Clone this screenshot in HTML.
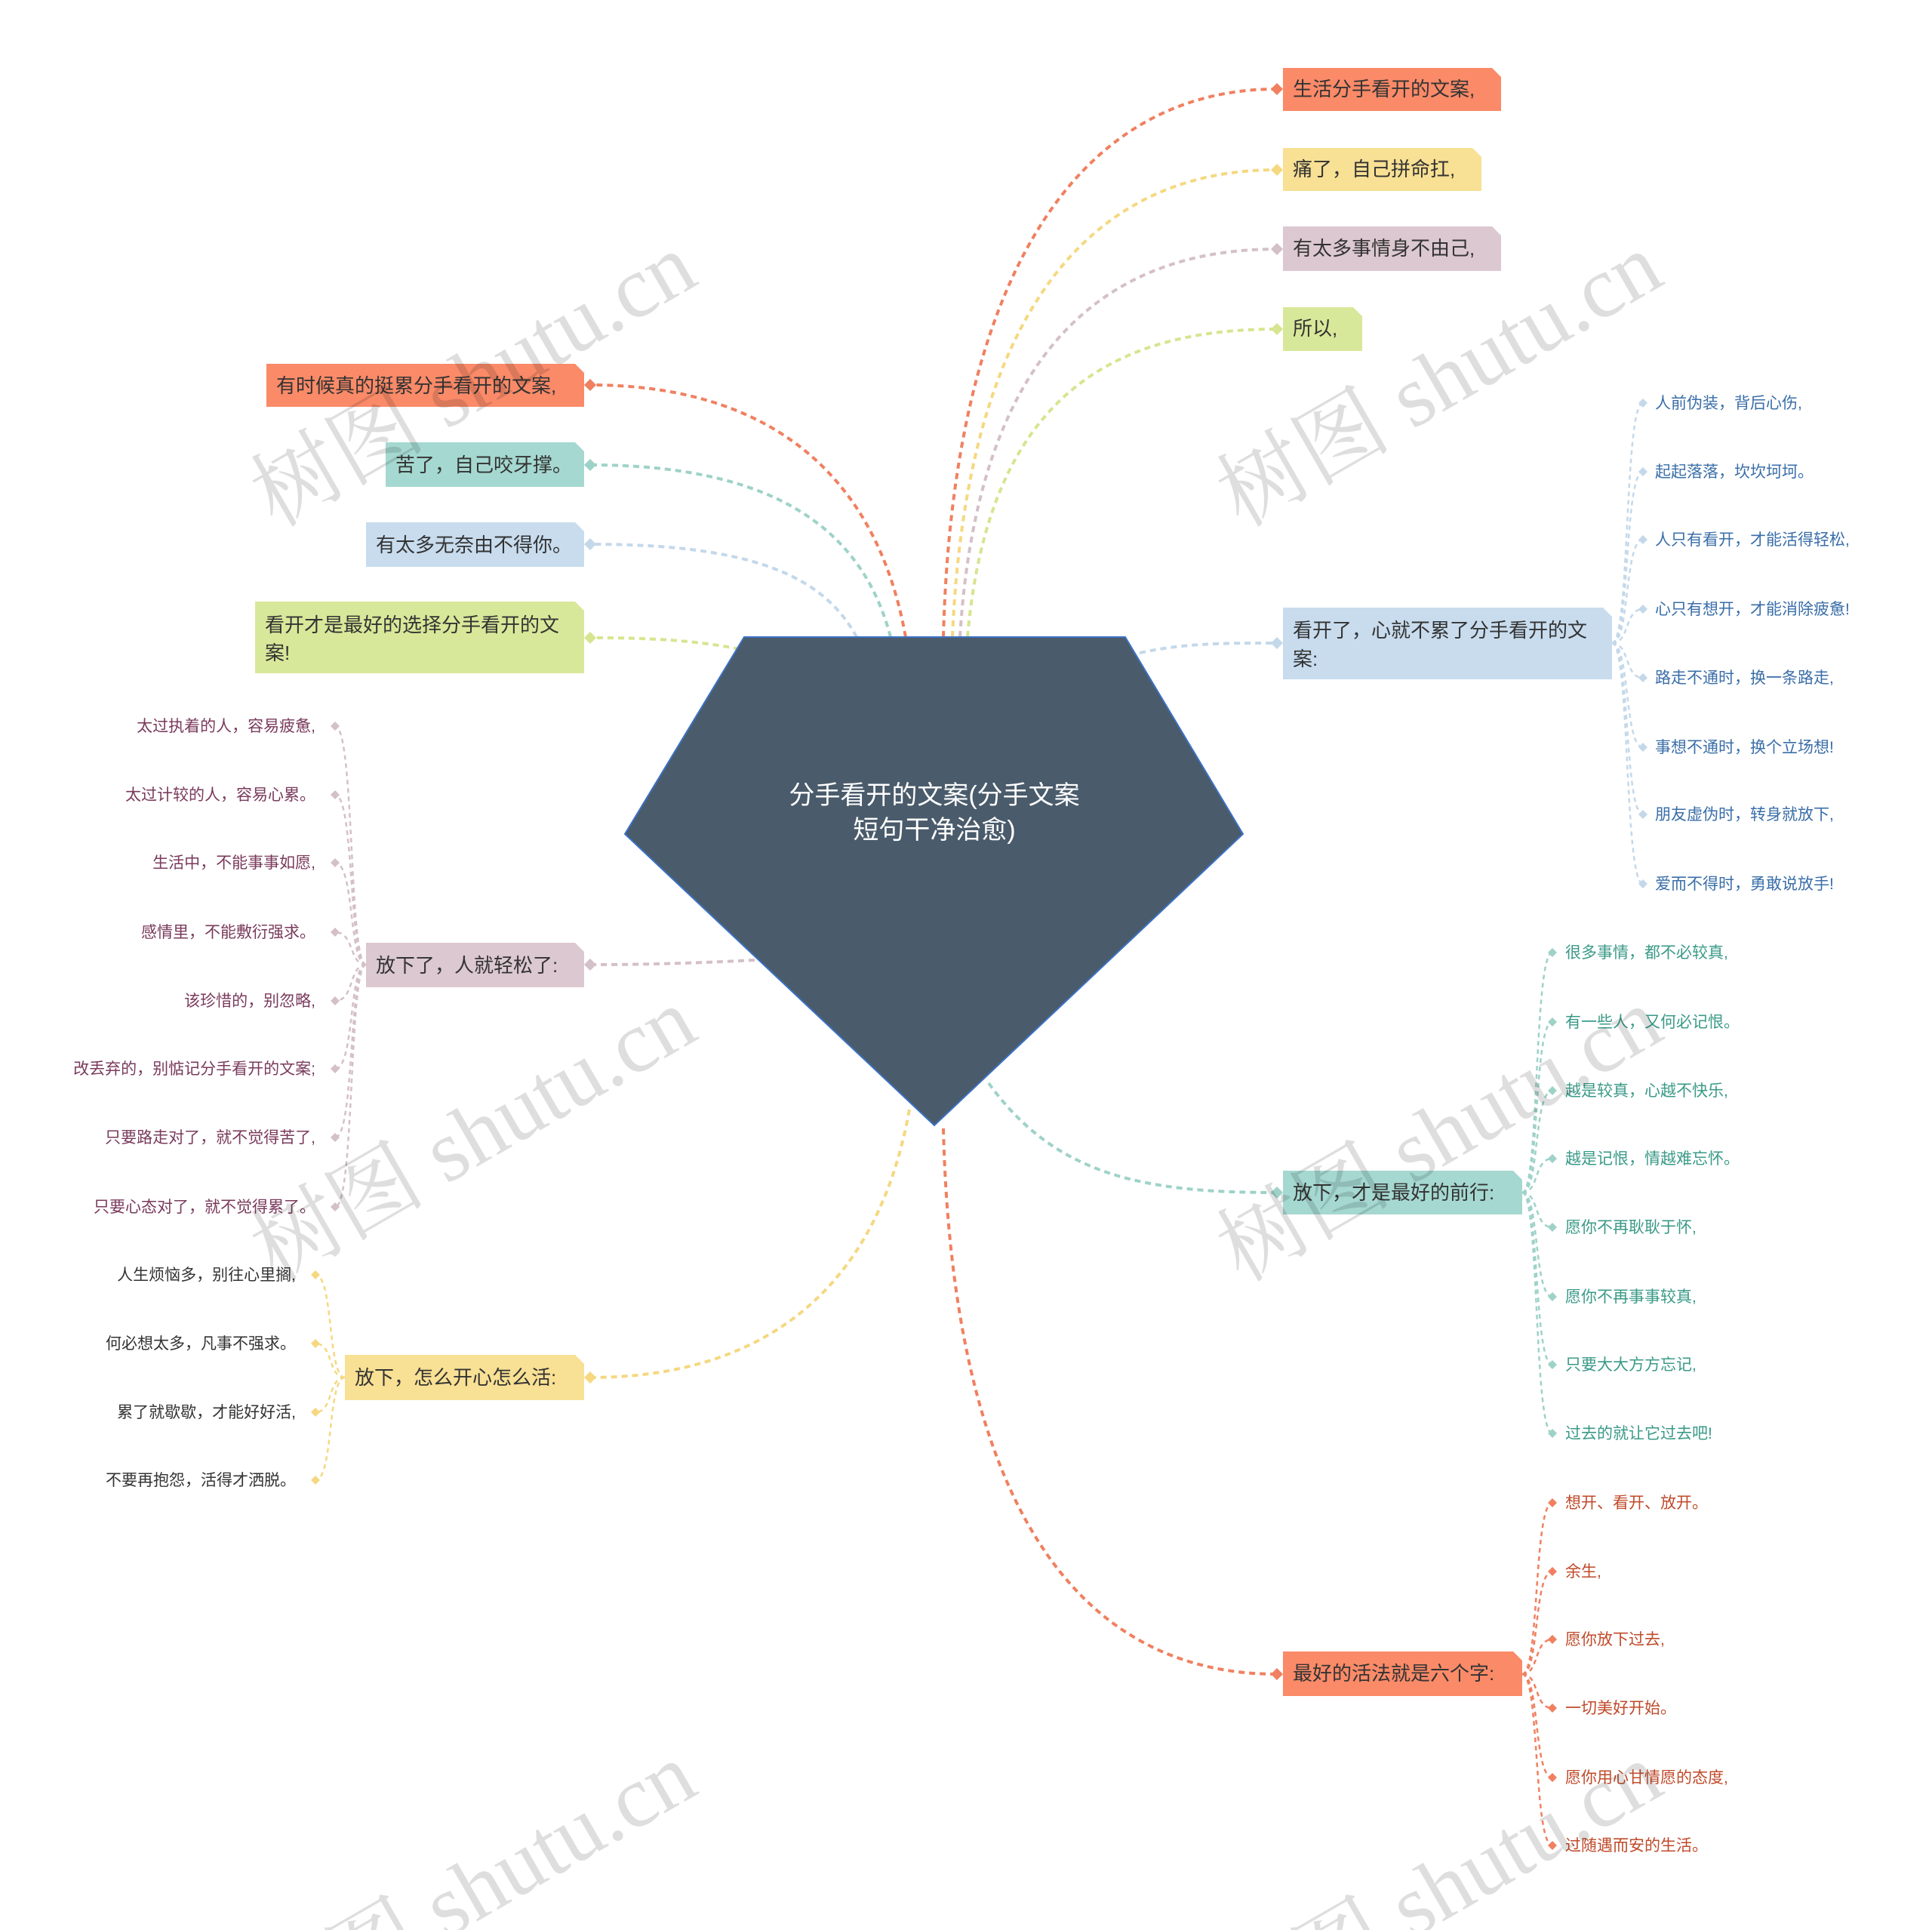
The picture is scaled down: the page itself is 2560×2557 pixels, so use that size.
<!DOCTYPE html>
<html><head><meta charset="utf-8"><style>
html,body{margin:0;padding:0;background:#fff;width:2560px;height:2557px;overflow:hidden;}
svg{display:block;overflow:hidden;}
text{font-family:"Liberation Sans","Noto Sans CJK SC",sans-serif;}
</style></head><body>
<svg width="2560" height="2557" viewBox="0 0 2560 2557" xmlns="http://www.w3.org/2000/svg">
<g fill="none" stroke-width="4" stroke-dasharray="8 6">
<path d="M1250 844 C1262 380 1420 118 1692 118" stroke="#f08060"/>
<path d="M1262 844 C1280 420 1440 225 1692 225" stroke="#f5d880"/>
<path d="M1272 844 C1295 470 1460 330 1692 330" stroke="#d4c0c8"/>
<path d="M1282 844 C1310 520 1480 436 1692 436" stroke="#d8e490"/>
<path d="M1510 865 C1570 852 1620 852 1692 852" stroke="#c4d8ea"/>
<path d="M1310 1435 C1400 1560 1520 1580 1692 1580" stroke="#9ed2c8"/>
<path d="M1250 1495 C1262 1980 1420 2218 1692 2218" stroke="#f08060"/>
<path d="M1200 844 C1160 620 1010 510 782 510" stroke="#f08060"/>
<path d="M1180 844 C1140 690 1010 616 782 616" stroke="#9ed2c8"/>
<path d="M1135 844 C1090 760 990 721 782 721" stroke="#c4d8ea"/>
<path d="M980 860 C920 848 860 845 782 845" stroke="#d8e490"/>
<path d="M1000 1272 C920 1276 860 1278 782 1278" stroke="#d4c0c8"/>
<path d="M1205 1470 C1160 1720 1000 1825 782 1825" stroke="#f5d880"/>
</g>
<g fill="none" stroke-width="2.5" stroke-dasharray="6 5">
<g stroke="#c4d8ea">
<path d="M2136 852 C2160 852 2152 534 2177 534"/><path d="M2136 852 C2160 852 2152 625 2177 625"/>
<path d="M2136 852 C2160 852 2152 715 2177 715"/><path d="M2136 852 C2160 852 2152 807 2177 807"/>
<path d="M2136 852 C2160 852 2152 898 2177 898"/><path d="M2136 852 C2160 852 2152 990 2177 990"/>
<path d="M2136 852 C2160 852 2152 1079 2177 1079"/><path d="M2136 852 C2160 852 2152 1171 2177 1171"/>
</g>
<g stroke="#9ed2c8">
<path d="M2017 1580 C2040 1580 2032 1262 2057 1262"/><path d="M2017 1580 C2040 1580 2032 1354 2057 1354"/>
<path d="M2017 1580 C2040 1580 2032 1445 2057 1445"/><path d="M2017 1580 C2040 1580 2032 1535 2057 1535"/>
<path d="M2017 1580 C2040 1580 2032 1626 2057 1626"/><path d="M2017 1580 C2040 1580 2032 1718 2057 1718"/>
<path d="M2017 1580 C2040 1580 2032 1808 2057 1808"/><path d="M2017 1580 C2040 1580 2032 1899 2057 1899"/>
</g>
<g stroke="#f08060">
<path d="M2017 2218 C2040 2218 2032 1991 2057 1991"/><path d="M2017 2218 C2040 2218 2032 2082 2057 2082"/>
<path d="M2017 2218 C2040 2218 2032 2172 2057 2172"/><path d="M2017 2218 C2040 2218 2032 2263 2057 2263"/>
<path d="M2017 2218 C2040 2218 2032 2355 2057 2355"/><path d="M2017 2218 C2040 2218 2032 2445 2057 2445"/>
</g>
<g stroke="#d4c0c8">
<path d="M485 1278 C462 1278 470 962 444 962"/><path d="M485 1278 C462 1278 470 1053 444 1053"/>
<path d="M485 1278 C462 1278 470 1143 444 1143"/><path d="M485 1278 C462 1278 470 1235 444 1235"/>
<path d="M485 1278 C462 1278 470 1326 444 1326"/><path d="M485 1278 C462 1278 470 1416 444 1416"/>
<path d="M485 1278 C462 1278 470 1507 444 1507"/><path d="M485 1278 C462 1278 470 1599 444 1599"/>
</g>
<g stroke="#f5d880">
<path d="M457 1825 C434 1825 442 1689 418 1689"/><path d="M457 1825 C434 1825 442 1780 418 1780"/>
<path d="M457 1825 C434 1825 442 1871 418 1871"/><path d="M457 1825 C434 1825 442 1961 418 1961"/>
</g>
</g>
<polygon points="986,844 1491,844 1647,1105 1238,1491 828,1105" fill="#4a5b6b" stroke="#3c72c4" stroke-width="2"/>
<text x="1238" y="1065" font-size="34" fill="#fff" text-anchor="middle">分手看开的文案(分手文案</text>
<text x="1238" y="1111" font-size="34" fill="#fff" text-anchor="middle">短句干净治愈)</text>
<g font-size="26" fill="#333">
<polygon points="1700,90 1977,90 1989,102 1989,147 1700,147" fill="#fa8a68"/>
<text x="1713" y="127">生活分手看开的文案,</text>
<polygon points="1700,196 1951,196 1963,208 1963,253 1700,253" fill="#f8e094"/>
<text x="1713" y="233">痛了，自己拼命扛,</text>
<polygon points="1700,300 1977,300 1989,312 1989,359 1700,359" fill="#dcc8d0"/>
<text x="1713" y="338">有太多事情身不由己,</text>
<polygon points="1700,407 1793,407 1805,419 1805,465 1700,465" fill="#d8e89a"/>
<text x="1713" y="444">所以,</text>
<polygon points="1700,805 2124,805 2136,817 2136,900 1700,900" fill="#c8dcee"/>
<text x="1713" y="844">看开了，心就不累了分手看开的文</text>
<text x="1713" y="882">案:</text>
<polygon points="1700,1551 2005,1551 2017,1563 2017,1609 1700,1609" fill="#a5d8d0"/>
<text x="1713" y="1589">放下，才是最好的前行:</text>
<polygon points="1700,2188 2005,2188 2017,2200 2017,2247 1700,2247" fill="#fa8a68"/>
<text x="1713" y="2226">最好的活法就是六个字:</text>
<polygon points="353,482 762,482 774,494 774,539 353,539" fill="#fa8a68"/>
<text x="366" y="520">有时候真的挺累分手看开的文案,</text>
<polygon points="511,586 762,586 774,598 774,645 511,645" fill="#a5d8d0"/>
<text x="524" y="625">苦了，自己咬牙撑。</text>
<polygon points="485,692 762,692 774,704 774,751 485,751" fill="#c8dcee"/>
<text x="498" y="731">有太多无奈由不得你。</text>
<polygon points="338,797 762,797 774,809 774,892 338,892" fill="#d8e89a"/>
<text x="351" y="837">看开才是最好的选择分手看开的文</text>
<text x="351" y="874">案!</text>
<polygon points="485,1249 762,1249 774,1261 774,1308 485,1308" fill="#dcc8d0"/>
<text x="498" y="1288">放下了，人就轻松了:</text>
<polygon points="457,1795 762,1795 774,1807 774,1855 457,1855" fill="#f8e094"/>
<text x="470" y="1834">放下，怎么开心怎么活:</text>
</g>
<g>
<path d="M1692 110 l8 8 -8 8 -8 -8z" fill="#f08060"/>
<path d="M1692 217 l8 8 -8 8 -8 -8z" fill="#f5d880"/>
<path d="M1692 322 l8 8 -8 8 -8 -8z" fill="#d4c0c8"/>
<path d="M1692 428 l8 8 -8 8 -8 -8z" fill="#d8e490"/>
<path d="M1692 844 l8 8 -8 8 -8 -8z" fill="#c4d8ea"/>
<path d="M1692 1572 l8 8 -8 8 -8 -8z" fill="#9ed2c8"/>
<path d="M1692 2210 l8 8 -8 8 -8 -8z" fill="#f08060"/>
<path d="M782 502 l8 8 -8 8 -8 -8z" fill="#f08060"/>
<path d="M782 608 l8 8 -8 8 -8 -8z" fill="#9ed2c8"/>
<path d="M782 713 l8 8 -8 8 -8 -8z" fill="#c4d8ea"/>
<path d="M782 837 l8 8 -8 8 -8 -8z" fill="#d8e490"/>
<path d="M782 1270 l8 8 -8 8 -8 -8z" fill="#d4c0c8"/>
<path d="M782 1817 l8 8 -8 8 -8 -8z" fill="#f5d880"/>
</g>
<g fill="#c4d8ea">
<path d="M2177 528 l6 6 -6 6 -6 -6z"/><path d="M2177 619 l6 6 -6 6 -6 -6z"/><path d="M2177 709 l6 6 -6 6 -6 -6z"/><path d="M2177 801 l6 6 -6 6 -6 -6z"/>
<path d="M2177 892 l6 6 -6 6 -6 -6z"/><path d="M2177 984 l6 6 -6 6 -6 -6z"/><path d="M2177 1073 l6 6 -6 6 -6 -6z"/><path d="M2177 1165 l6 6 -6 6 -6 -6z"/>
</g>
<g fill="#9ed2c8">
<path d="M2057 1256 l6 6 -6 6 -6 -6z"/><path d="M2057 1348 l6 6 -6 6 -6 -6z"/><path d="M2057 1439 l6 6 -6 6 -6 -6z"/><path d="M2057 1529 l6 6 -6 6 -6 -6z"/>
<path d="M2057 1620 l6 6 -6 6 -6 -6z"/><path d="M2057 1712 l6 6 -6 6 -6 -6z"/><path d="M2057 1802 l6 6 -6 6 -6 -6z"/><path d="M2057 1893 l6 6 -6 6 -6 -6z"/>
</g>
<g fill="#f08060">
<path d="M2057 1985 l6 6 -6 6 -6 -6z"/><path d="M2057 2076 l6 6 -6 6 -6 -6z"/><path d="M2057 2166 l6 6 -6 6 -6 -6z"/>
<path d="M2057 2257 l6 6 -6 6 -6 -6z"/><path d="M2057 2349 l6 6 -6 6 -6 -6z"/><path d="M2057 2439 l6 6 -6 6 -6 -6z"/>
</g>
<g fill="#d4c0c8">
<path d="M444 956 l6 6 -6 6 -6 -6z"/><path d="M444 1047 l6 6 -6 6 -6 -6z"/><path d="M444 1137 l6 6 -6 6 -6 -6z"/><path d="M444 1229 l6 6 -6 6 -6 -6z"/>
<path d="M444 1320 l6 6 -6 6 -6 -6z"/><path d="M444 1410 l6 6 -6 6 -6 -6z"/><path d="M444 1501 l6 6 -6 6 -6 -6z"/><path d="M444 1593 l6 6 -6 6 -6 -6z"/>
</g>
<g fill="#f5d880">
<path d="M418 1683 l6 6 -6 6 -6 -6z"/><path d="M418 1774 l6 6 -6 6 -6 -6z"/><path d="M418 1865 l6 6 -6 6 -6 -6z"/><path d="M418 1955 l6 6 -6 6 -6 -6z"/>
</g>
<g font-size="21" fill="#3a6ea8">
<text x="2193" y="541">人前伪装，背后心伤,</text>
<text x="2193" y="632">起起落落，坎坎坷坷。</text>
<text x="2193" y="722">人只有看开，才能活得轻松,</text>
<text x="2193" y="814">心只有想开，才能消除疲惫!</text>
<text x="2193" y="905">路走不通时，换一条路走,</text>
<text x="2193" y="997">事想不通时，换个立场想!</text>
<text x="2193" y="1086">朋友虚伪时，转身就放下,</text>
<text x="2193" y="1178">爱而不得时，勇敢说放手!</text>
</g>
<g font-size="21" fill="#3a9a88">
<text x="2074" y="1269">很多事情，都不必较真,</text>
<text x="2074" y="1361">有一些人，又何必记恨。</text>
<text x="2074" y="1452">越是较真，心越不快乐,</text>
<text x="2074" y="1542">越是记恨，情越难忘怀。</text>
<text x="2074" y="1633">愿你不再耿耿于怀,</text>
<text x="2074" y="1725">愿你不再事事较真,</text>
<text x="2074" y="1815">只要大大方方忘记,</text>
<text x="2074" y="1906">过去的就让它过去吧!</text>
</g>
<g font-size="21" fill="#c04a2a">
<text x="2074" y="1998">想开、看开、放开。</text>
<text x="2074" y="2089">余生,</text>
<text x="2074" y="2179">愿你放下过去,</text>
<text x="2074" y="2270">一切美好开始。</text>
<text x="2074" y="2362">愿你用心甘情愿的态度,</text>
<text x="2074" y="2452">过随遇而安的生活。</text>
</g>
<g font-size="21" fill="#7a3a5c" text-anchor="end">
<text x="418" y="969">太过执着的人，容易疲惫,</text>
<text x="418" y="1060">太过计较的人，容易心累。</text>
<text x="418" y="1150">生活中，不能事事如愿,</text>
<text x="418" y="1242">感情里，不能敷衍强求。</text>
<text x="418" y="1333">该珍惜的，别忽略,</text>
<text x="418" y="1423">改丢弃的，别惦记分手看开的文案;</text>
<text x="418" y="1514">只要路走对了，就不觉得苦了,</text>
<text x="418" y="1606">只要心态对了，就不觉得累了。</text>
</g>
<g font-size="21" fill="#333" text-anchor="end">
<text x="392" y="1696">人生烦恼多，别往心里搁,</text>
<text x="392" y="1787">何必想太多，凡事不强求。</text>
<text x="392" y="1878">累了就歇歇，才能好好活,</text>
<text x="392" y="1968">不要再抱怨，活得才洒脱。</text>
</g>
<g font-size="116" fill="#000" fill-opacity="0.13">
<text transform="translate(365,700) rotate(-30)" style="font-family:'Liberation Serif','Noto Serif CJK SC',serif">树图 shutu.cn</text>
<text transform="translate(1645,700) rotate(-30)" style="font-family:'Liberation Serif','Noto Serif CJK SC',serif">树图 shutu.cn</text>
<text transform="translate(365,1700) rotate(-30)" style="font-family:'Liberation Serif','Noto Serif CJK SC',serif">树图 shutu.cn</text>
<text transform="translate(1645,1700) rotate(-30)" style="font-family:'Liberation Serif','Noto Serif CJK SC',serif">树图 shutu.cn</text>
<text transform="translate(365,2700) rotate(-30)" style="font-family:'Liberation Serif','Noto Serif CJK SC',serif">树图 shutu.cn</text>
<text transform="translate(1645,2700) rotate(-30)" style="font-family:'Liberation Serif','Noto Serif CJK SC',serif">树图 shutu.cn</text>
</g>
</svg>
</body></html>
